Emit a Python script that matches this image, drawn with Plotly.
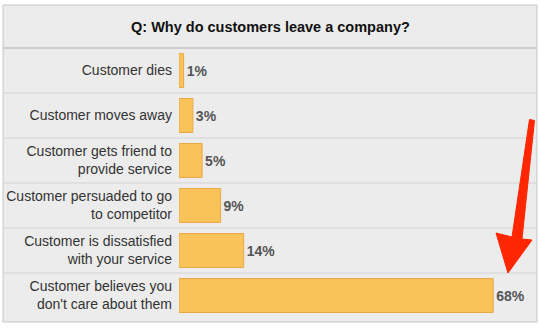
import plotly.graph_objects as go

# Survey answers, top to bottom
reasons = [
    "Customer dies",
    "Customer moves away",
    "Customer gets friend to<br>provide service",
    "Customer persuaded to go<br>to competitor",
    "Customer is dissatisfied<br>with your service",
    "Customer believes you<br>don't care about them",
]
shares = [1, 3, 5, 9, 14, 68]
title_text = "Q: Why do customers leave a company?"

W, H = 540, 330
ML, MR, MT, MB = 179, 0, 48, 12
PW, PH = W - ML - MR, H - MT - MB
X_MAX = PW / 4.62

FONT = "Liberation Sans, Arial, Helvetica, sans-serif"


def px(x):
    return (x - ML) / PW


def py(y):
    return (H - MB - y) / PH


fig = go.Figure(
    go.Bar(
        x=shares,
        y=reasons,
        orientation="h",
        width=0.755,
        marker=dict(color="#f9c35a", line=dict(color="#eba845", width=1)),
        texttemplate="%{x}%",
        textposition="outside",
        outsidetextfont=dict(family=FONT, size=14, color="#555555", weight="bold"),
        cliponaxis=False,
        hoverinfo="skip",
    )
)

shapes = []
# panel background and border
shapes.append(dict(type="rect", xref="paper", yref="paper", layer="below",
                   x0=px(3), x1=px(537), y0=py(322), y1=py(5),
                   fillcolor="#ececec", line=dict(color="#c6c6c6", width=1)))
# title band separator
shapes.append(dict(type="line", xref="paper", yref="paper", layer="below",
                   x0=px(3), x1=px(537), y0=py(48), y1=py(48),
                   line=dict(color="#c2c2c2", width=1.5)))
# row separators
for yy in [93, 138, 183, 228, 273]:
    shapes.append(dict(type="line", xref="paper", yref="paper", layer="below",
                       x0=px(3), x1=px(537), y0=py(yy), y1=py(yy),
                       line=dict(color="#d3d3d3", width=1)))

# red call-out arrow pointing at the largest bar
arrow_pts = [(529.5, 119.5), (534.5, 120.5), (522, 239), (532, 240),
             (508, 273), (496, 233), (512, 237)]
path = "M " + " L ".join(f"{px(a):.5f},{py(b):.5f}" for a, b in arrow_pts) + " Z"
shapes.append(dict(type="path", xref="paper", yref="paper", path=path,
                   fillcolor="#ff2600", line=dict(color="#ff2600", width=1)))

fig.update_layout(
    width=W, height=H,
    margin=dict(l=ML, r=MR, t=MT, b=MB, pad=0),
    paper_bgcolor="white",
    plot_bgcolor="rgba(0,0,0,0)",
    showlegend=False,
    shapes=shapes,
    annotations=[dict(text=f"<b>{title_text}</b>", xref="paper", yref="paper",
                      x=px(270), y=py(27), xanchor="center", yanchor="middle",
                      showarrow=False,
                      font=dict(family=FONT, size=14.5, color="#111111"))],
    xaxis=dict(range=[0, X_MAX], visible=False, fixedrange=True),
    yaxis=dict(type="category", categoryorder="array", categoryarray=reasons,
               range=[5.5, -0.5], showgrid=False, zeroline=False, showline=False,
               ticks="", ticklabelstandoff=6,
               tickfont=dict(family=FONT, size=14, color="#333333"),
               fixedrange=True),
)

fig.write_html("out.html")
